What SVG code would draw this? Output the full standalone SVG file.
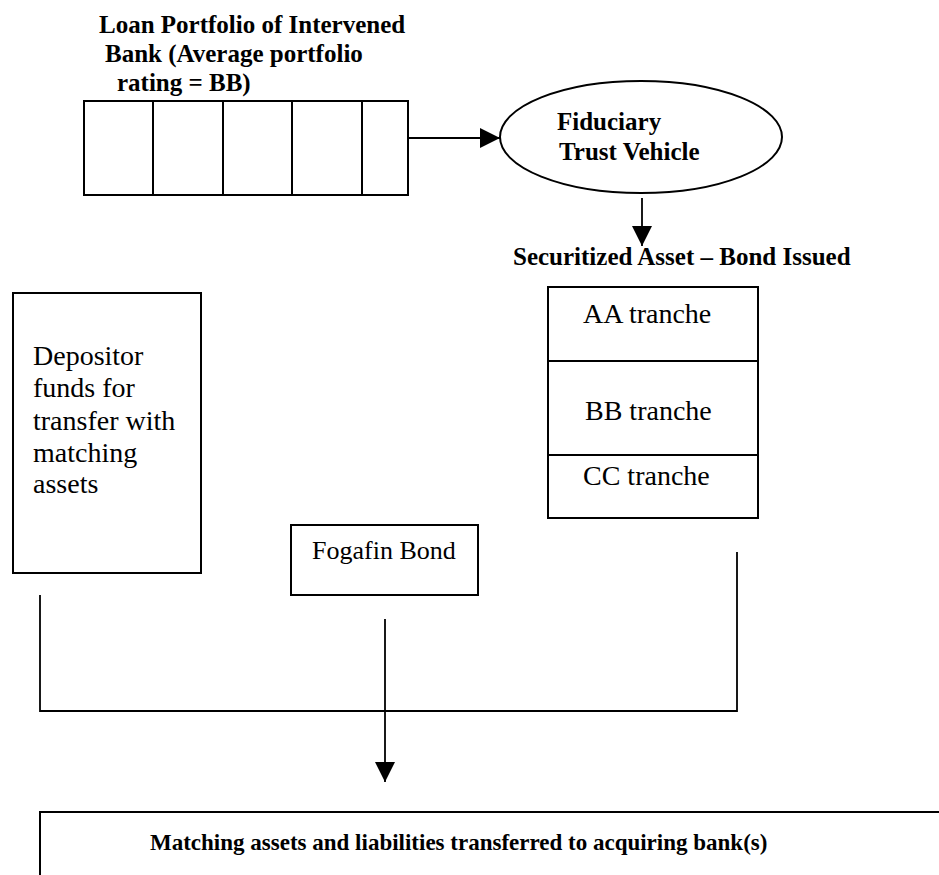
<svg xmlns="http://www.w3.org/2000/svg" width="939" height="875" viewBox="0 0 939 875">
<style>
.b{font-family:"Liberation Serif","Times New Roman",serif;font-weight:bold;font-size:25px;fill:#000}
.r{font-family:"Liberation Serif","Times New Roman",serif;font-size:28px;fill:#000}
.box{fill:none;stroke:#000;stroke-width:2}
.ln{fill:none;stroke:#000;stroke-width:1.8}
</style>
<defs>
<marker id="ah" viewBox="0 0 20 20" refX="20" refY="10" markerWidth="20" markerHeight="20" markerUnits="userSpaceOnUse" orient="auto">
<path d="M0,0 L20,10 L0,20 Z" fill="#000"/>
</marker>
</defs>
<rect width="939" height="875" fill="#fff"/>
<g id="loan-portfolio">
<text class="b" x="99" y="33">Loan Portfolio of Intervened</text>
<text class="b" x="105" y="62">Bank (Average portfolio</text>
<text class="b" x="117" y="91">rating = BB)</text>
<rect class="box" x="84" y="101" width="324" height="94"/>
<line class="box" x1="153" y1="101" x2="153" y2="195"/>
<line class="box" x1="223" y1="101" x2="223" y2="195"/>
<line class="box" x1="292" y1="101" x2="292" y2="195"/>
<line class="box" x1="362" y1="101" x2="362" y2="195"/>
</g>
<g id="trust-vehicle">
<ellipse class="box" cx="641" cy="137" rx="141" ry="56"/>
<text class="b" x="557" y="130">Fiduciary</text>
<text class="b" x="559" y="160">Trust Vehicle</text>
</g>
<g id="securitized-bond">
<text class="b" x="513" y="265">Securitized Asset – Bond Issued</text>
<rect class="box" x="548" y="287" width="210" height="231"/>
<line class="box" x1="548" y1="361" x2="758" y2="361"/>
<line class="box" x1="548" y1="455" x2="758" y2="455"/>
<text class="r" x="583" y="323">AA tranche</text>
<text class="r" x="585" y="420">BB tranche</text>
<text class="r" x="583" y="485">CC tranche</text>
</g>
<g id="depositor-funds">
<rect class="box" x="13" y="293" width="188" height="280"/>
<text class="r" x="33" y="365">Depositor</text>
<text class="r" x="33" y="397">funds for</text>
<text class="r" x="33" y="430">transfer with</text>
<text class="r" x="33" y="462">matching</text>
<text class="r" x="33" y="493">assets</text>
</g>
<g id="fogafin-bond">
<rect class="box" x="291" y="525" width="187" height="70"/>
<text class="r" x="312" y="559" style="font-size:26px">Fogafin Bond</text>
</g>
<g id="acquiring-bank">
<path class="box" d="M40,875 L40,812 L939,812"/>
<text class="b" x="150" y="850" style="font-size:23px">Matching assets and liabilities transferred to acquiring bank(s)</text>
</g>
<g id="connectors">
<line class="ln" x1="408" y1="138" x2="500" y2="138" marker-end="url(#ah)"/>
<line class="ln" x1="642" y1="198" x2="642" y2="246" marker-end="url(#ah)"/>
<path class="ln" d="M40,595 L40,711 L737,711 L737,552"/>
<line class="ln" x1="385" y1="619" x2="385" y2="782" marker-end="url(#ah)"/>
</g>
</svg>
